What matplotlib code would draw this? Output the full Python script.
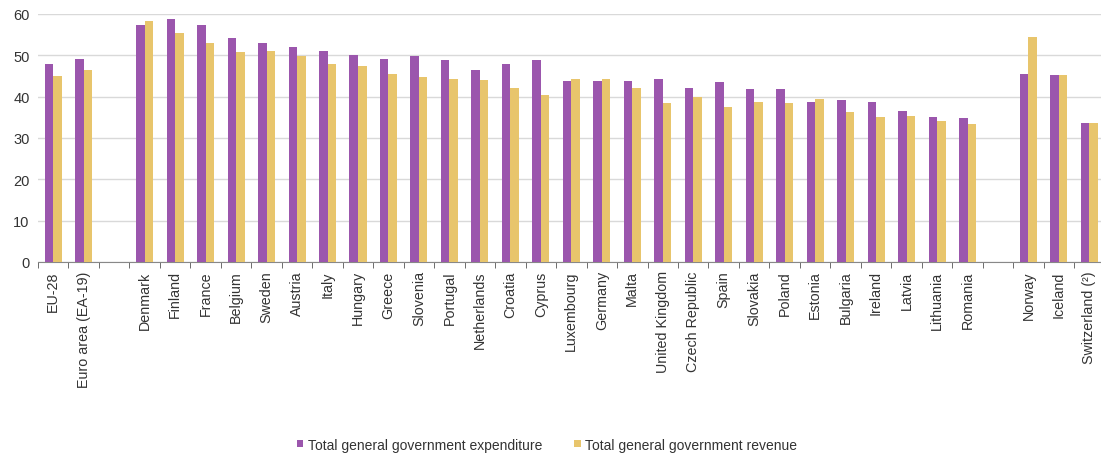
import numpy as np
import matplotlib.pyplot as plt

plt.rcParams['font.family'] = ['Liberation Sans', 'DejaVu Sans']

# categories ('' = spacer slot)
countries = ['EU-28', 'Euro area (EA-19)', '',
             'Denmark', 'Finland', 'France', 'Belgium', 'Sweden', 'Austria',
             'Italy', 'Hungary', 'Greece', 'Slovenia', 'Portugal', 'Netherlands',
             'Croatia', 'Cyprus', 'Luxembourg', 'Germany', 'Malta',
             'United Kingdom', 'Czech Republic', 'Spain', 'Slovakia', 'Poland',
             'Estonia', 'Bulgaria', 'Ireland', 'Latvia', 'Lithuania', 'Romania',
             '', 'Norway', 'Iceland', 'Switzerland (²)']

expenditure = [48.0, 49.0, np.nan,
               57.3, 58.7, 57.3, 54.2, 53.1, 52.0, 51.0, 50.0, 49.2, 49.8,
               48.9, 46.4, 47.9, 48.9, 43.7, 43.7, 43.7, 44.3, 42.2, 43.6,
               41.9, 41.9, 38.8, 39.1, 38.8, 36.6, 35.1, 34.8,
               np.nan, 45.6, 45.2, 33.6]

revenue = [44.9, 46.5, np.nan,
           58.4, 55.4, 53.0, 50.9, 51.0, 49.8, 47.9, 47.4, 45.6, 44.7,
           44.3, 44.0, 42.2, 40.3, 44.3, 44.3, 42.0, 38.4, 40.0, 37.5,
           38.7, 38.4, 39.4, 36.3, 35.1, 35.4, 34.2, 33.3,
           np.nan, 54.5, 45.2, 33.6]

purple = '#9b56ad'
yellow = '#e8c56c'

fig = plt.figure(figsize=(11.01, 4.56), dpi=100)
ax = fig.add_axes([38 / 1101, 193 / 456, 1063 / 1101, 248 / 456])

x = np.arange(len(countries))
w = 0.28
ax.bar(x - w / 2, expenditure, w, color=purple,
       label='Total general government expenditure', zorder=3)
ax.bar(x + w / 2, revenue, w, color=yellow,
       label='Total general government revenue', zorder=3)

ax.set_ylim(0, 60)
ax.set_xlim(-0.5, 34.38)
ax.set_yticks(range(0, 61, 10))
ax.yaxis.grid(True, color='#d9d9d9', linewidth=1)
ax.tick_params(axis='y', length=0, labelsize=10.5, colors='#333333', pad=6)

ax.set_xticks(x)
ax.set_xticklabels(countries, rotation=90, fontsize=10.3, color='#333333')
ax.tick_params(axis='x', length=0, pad=6)
ax.set_xticks(np.arange(-0.5, 34.5, 1), minor=True)
ax.tick_params(axis='x', which='minor', length=4, color='#555555', direction='out')

for s in ['top', 'right', 'left']:
    ax.spines[s].set_visible(False)
ax.spines['bottom'].set_color('#888888')

fig.legend(loc='lower center', bbox_to_anchor=(0.497, -0.02), ncol=2, frameon=False,
           fontsize=10, handlelength=0.45, handleheight=0.45, handletextpad=0.35,
           columnspacing=2.3, labelcolor='#333333')

plt.savefig('out.png', dpi=100)
